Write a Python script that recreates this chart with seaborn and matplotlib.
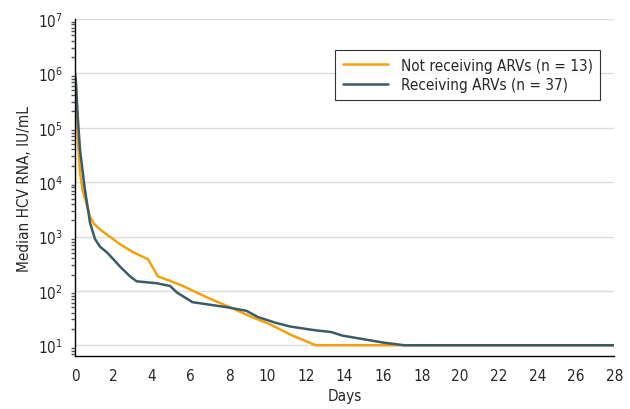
import numpy as np
import pandas as pd
import matplotlib
matplotlib.use("Agg")
import matplotlib.pyplot as plt
import matplotlib.ticker as mticker
import seaborn as sns

# Datos (días, mediana de ARN del VHC en UI/mL)
dias_no_arv = [0, 0.05, 0.15, 0.26, 0.4, 0.6, 0.78, 1.0, 1.3, 1.8, 2.34, 3.0, 3.8,
               4.3, 5.0, 5.6, 6.85, 8.05, 9.1, 10.1, 11.3, 12.5, 17.2, 28]
arn_no_arv = [1.0e6, 6.0e5, 6.0e4, 1.5e4, 7.0e3, 4.0e3, 2.3e3, 1.7e3, 1.35e3, 1.0e3,
              7.2e2, 5.2e2, 3.8e2, 1.85e2, 1.5e2, 1.23e2, 7.6e1, 5.0e1, 3.4e1, 2.45e1,
              1.5e1, 1.0e1, 1.0e1, 1.0e1]

dias_arv = [0, 0.05, 0.15, 0.26, 0.5, 0.78, 1.04, 1.3, 1.66, 2.0, 2.34, 2.86, 3.2,
            4.25, 4.94, 5.3, 6.1, 7.9, 8.9, 9.5, 10.4, 11.2, 12.4, 13.3, 13.9, 16.0,
            17.1, 28]
arn_arv = [1.0e6, 7.0e5, 1.5e5, 4.0e4, 8.0e3, 1.8e3, 9.0e2, 6.5e2, 5.1e2, 3.8e2,
           2.8e2, 1.85e2, 1.5e2, 1.38e2, 1.23e2, 9.3e1, 6.2e1, 5.0e1, 4.3e1, 3.3e1,
           2.6e1, 2.2e1, 1.9e1, 1.75e1, 1.5e1, 1.12e1, 1.0e1, 1.0e1]

etiquetas = ["Not receiving ARVs (n = 13)", "Receiving ARVs (n = 37)"]
colores = ["#F5A00F", "#3B5B66"]

df = pd.concat([
    pd.DataFrame({"Dias": dias_no_arv, "ARN": arn_no_arv, "Grupo": etiquetas[0]}),
    pd.DataFrame({"Dias": dias_arv, "ARN": arn_arv, "Grupo": etiquetas[1]}),
])

sns.set_style("white")
plt.rcParams["font.family"] = ["DejaVu Sans"]
plt.rcParams["font.stretch"] = "condensed"

fig = plt.figure(figsize=(6.3, 4.1), dpi=100)
ax = fig.add_axes([0.119, 0.129, 0.856, 0.822])

sns.lineplot(data=df, x="Dias", y="ARN", hue="Grupo", palette=colores,
             hue_order=etiquetas, linewidth=1.8, ax=ax)

ax.set_yscale("log")
ax.set_ylim(10 ** 0.8, 1e7)
ax.set_xlim(0, 28)
ax.set_xticks(np.arange(0, 29, 2))
ax.set_yticks([1e1, 1e2, 1e3, 1e4, 1e5, 1e6, 1e7])
ax.yaxis.set_minor_locator(mticker.LogLocator(base=10, subs=np.arange(2, 10), numticks=10))
ax.yaxis.set_minor_formatter(mticker.NullFormatter())

ax.grid(axis="y", which="major", color="#DDDDDD", linewidth=1)
ax.set_axisbelow(True)
sns.despine(ax=ax)
for s in ["left", "bottom"]:
    ax.spines[s].set_color("black")
    ax.spines[s].set_linewidth(1)

ax.tick_params(axis="both", which="major", direction="out", length=5, width=1,
               color="#555555", labelsize=11)
ax.tick_params(axis="y", which="minor", direction="out", length=3, width=1,
               color="#555555", left=True)

ax.set_xlabel("Days", fontsize=11)
ax.set_ylabel("Median HCV RNA, IU/mL", fontsize=11)

leg = ax.legend(loc="upper right", bbox_to_anchor=(0.974, 0.908), fontsize=11,
                frameon=True, fancybox=False, handlelength=3, borderpad=0.5,
                labelspacing=0.3, borderaxespad=0)
leg.get_frame().set_edgecolor("black")
leg.get_frame().set_linewidth(0.8)

plt.savefig("out.png", dpi=100)
plt.close()
